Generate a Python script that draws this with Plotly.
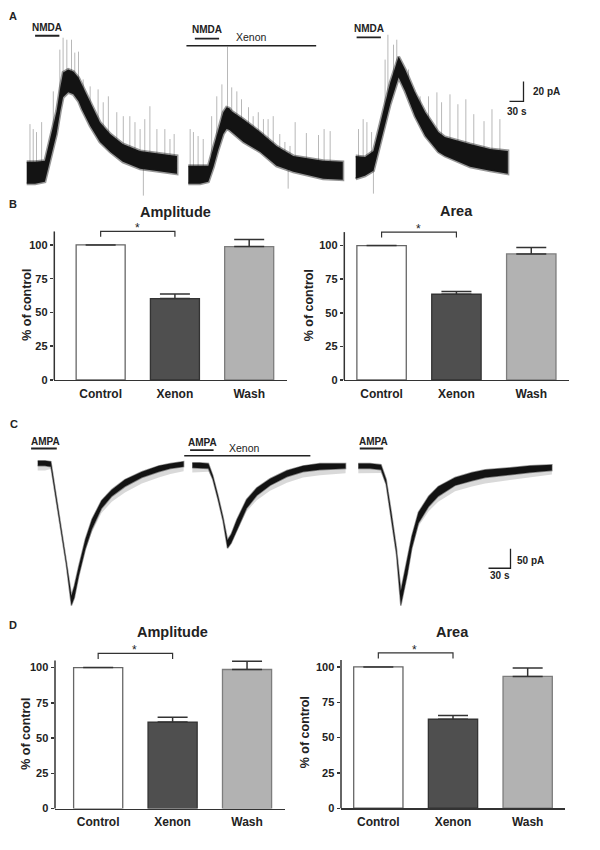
import plotly.graph_objects as go

# ======================= DATA =======================
conditions = ["Control", "Xenon", "Wash"]

# B: NMDA currents (% of control)
nmda_amp_mean = [100, 60.3, 98.8]
nmda_amp_sem = [None, 3.4, 5.2]
nmda_area_mean = [100, 63.8, 93.8]
nmda_area_sem = [None, 2.0, 4.8]
# D: AMPA currents (% of control)
ampa_amp_mean = [100, 61.3, 98.6]
ampa_amp_sem = [None, 3.5, 5.8]
ampa_area_mean = [100, 63.0, 93.3]
ampa_area_sem = [None, 2.6, 6.0]

# A: NMDA current sweeps (time s, band upper / lower pA)
A1_t = [0, 18, 39, 50, 64, 72, 78, 89, 100, 111, 118, 136, 157, 179, 206, 243, 286, 322]
A1_hi = [11, 11, 12, 33, 62, 86, 101, 104, 102, 96, 89, 71, 51, 39, 29, 22, 19, 17]
A1_lo = [-11, -11, -9, 11, 39, 62, 76, 81, 79, 72, 64, 47, 31, 21, 11, 4, 1, -1]
A1_spk_t = [7, 14, 21, 32, 57, 71, 78, 86, 96, 103, 111, 121, 136, 153, 164, 175, 193, 207,
            221, 232, 243, 250, 253, 264, 279, 296, 307, 316]
A1_spk_base = [0, 0, 0, 0, 45, 72, 80, 90, 90, 89, 84, 74, 59, 45, 38, 33, 25, 20,
               17, 15, 13, 12, 12, 11, 10, 9, 9, 9]
A1_spk_tip = [49, 44, 41, 51, 82, 124, 136, 134, 134, 121, 122, 94, 87, 84, 71, 77, 61, 57,
              57, 51, 44, -23, 54, 67, 44, 44, 34, 39]

A2_t = [0, 25, 43, 54, 64, 75, 82, 88, 93, 118, 154, 189, 225, 261, 289, 331]
A2_hi = [7, 7, 7, 26, 43, 61, 66, 65, 62, 54, 41, 27, 17, 14, 12, 11]
A2_lo = [-11, -11, -9, 6, 23, 39, 44, 43, 41, 31, 21, 7, 1, -3, -6, -7]
A2_spk_t = [4, 11, 21, 32, 50, 61, 72, 84, 93, 104, 114, 129, 139, 150, 161, 171, 182, 196,
            207, 214, 218, 229, 253, 279, 291, 304]
A2_spk_base = [0, 0, 0, 0, 10, 25, 40, 55, 52, 48, 44, 38, 34, 32, 28, 24, 20, 15,
               12, 8, 10, 9, 4, 4, 4, 4]
A2_spk_tip = [44, 41, 37, 34, 57, 77, 89, 127, 86, 82, 74, 66, 57, 61, 54, 54, 57, 39,
              31, -16, 27, 51, 40, 38, 44, 42]

A3_t = [0, 20, 38, 56, 74, 92, 106, 127, 149, 177, 191, 245, 288, 326]
A3_hi = [17, 16, 22, 57, 91, 117, 104, 81, 61, 41, 36, 29, 24, 22]
A3_lo = [-6, -3, 2, 35, 69, 96, 82, 57, 37, 21, 17, 6, 2, -1]
A3_spk_t = [6, 16, 24, 34, 38, 63, 69, 81, 88, 113, 127, 138, 156, 174, 184, 202, 219, 236,
            253, 275, 292, 309]
A3_spk_base = [5, 5, 5, 8, 10, 55, 70, 95, 100, 85, 69, 58, 45, 33, 28, 18, 17, 16,
               14, 12, 11, 10]
A3_spk_tip = [44, 54, 51, 41, -21, 114, 139, 129, 134, 104, 81, 77, 77, 81, 71, 79, 69, 74,
              59, 52, 64, 54]

# C: AMPA current sweeps (time s, band upper / lower pA, grey noise depth pA)
C1_t = [0, 10, 18, 25, 32, 39, 46, 50, 56, 65, 74, 87, 101, 119, 142, 165, 181, 199]
C1_hi = [10, 10, 8, -74, -160, -247, -336, -310, -260, -191, -140, -92, -64, -38, -18, -3, 3, 8]
C1_lo = [-3, -3, -5, -84, -170, -257, -361, -341, -285, -216, -165, -112, -81, -56, -33, -18, -10, -5]
C1_noise = [12, 12, 6, 0, 0, 0, 0, 0, 0, 4, 8, 12, 14, 15, 15, 15, 14, 12]

C2_t = [0, 10, 22, 28, 35, 42, 48, 53, 61, 74, 88, 106, 129, 151, 174, 209]
C2_hi = [5, 5, 3, -28, -79, -135, -193, -178, -140, -89, -59, -36, -15, -3, 3, 3]
C2_lo = [-8, -8, -10, -38, -89, -145, -214, -201, -165, -112, -79, -53, -31, -18, -13, -10]
C2_noise = [12, 12, 8, 0, 0, 0, 0, 0, 4, 8, 12, 14, 15, 15, 14, 12]

C3_t = [0, 16, 31, 38, 45, 52, 58, 62, 67, 73, 82, 96, 109, 132, 155, 173, 207, 234, 264]
C3_hi = [3, 3, 0, -38, -122, -214, -323, -285, -247, -183, -122, -81, -56, -33, -20, -13, -8, -3, 0]
C3_lo = [-10, -10, -13, -51, -135, -229, -361, -323, -280, -214, -150, -107, -81, -53, -41, -33, -25, -20, -15]
C3_noise = [12, 12, 8, 0, 0, 0, 0, 0, 0, 4, 8, 12, 14, 15, 15, 15, 14, 12, 10]

# drug application periods (s, relative to sweep start)
A_nmda = [[18, 70], [14, 66], [2, 54]]
A_xenon = [-4, 274]
C_ampa = [[-9, 26], [-3, 29], [2, 34]]
C_xenon = [-11, 161]

# scale bars (s, pA)
A_scale = [30, 20]
C_scale = [30, 50]

# ======================= LAYOUT =======================
W, H = 600, 850
FONT = "Liberation Sans, Arial, sans-serif"
INK = "#222222"


def fx(px):
    return px / W


def fy(py):
    return 1 - py / H


fig = go.Figure()
annotations = []
shapes = []
lay = dict(width=W, height=H, margin=dict(l=0, r=0, t=0, b=0),
           paper_bgcolor="white", plot_bgcolor="rgba(0,0,0,0)", showlegend=False,
           font=dict(family=FONT, color=INK))


def txt(text, px, py, size, bold=True, xanchor="center", yanchor="middle", angle=0):
    annotations.append(dict(text=text, x=fx(px), y=fy(py), xref="paper", yref="paper",
                            showarrow=False, xanchor=xanchor, yanchor=yanchor, textangle=angle,
                            font=dict(family=FONT, size=size, color=INK,
                                      weight="bold" if bold else "normal")))


def axname(kind, k):
    return kind + ("axis" if k == 1 else "axis%d" % k)


def ref(kind, k):
    return kind + ("" if k == 1 else str(k))


# ---- trace panels ----
A_left_px = [26.7, 188.3, 355.7]
A_px_per_s = 14 / 30
A_base_px, A_px_per_pA = 174, 1.0
A_ydom_px = (15, 205)
C_left_px = [37.7, 192.3, 358.3]
C_px_per_s = 22 / 30
C_base_px, C_px_per_pA = 468, 0.393
C_ydom_px = (435, 620)


def y_range(base_px, ppa, dom):
    return [(base_px - dom[1]) / ppa, (base_px - dom[0]) / ppa]


def set_y(k, base_px, ppa, dom):
    lay[axname("y", k)] = dict(domain=[fy(dom[1]), fy(dom[0])], range=y_range(base_px, ppa, dom),
                               visible=False, fixedrange=True, anchor=ref("x", 1))


set_y(1, A_base_px, A_px_per_pA, A_ydom_px)
set_y(2, C_base_px, C_px_per_pA, C_ydom_px)


def set_sweep_x(k, left_px, pxs, yk):
    lo_px, hi_px = left_px - 15, min(left_px + 215, W)
    lay[axname("x", k)] = dict(domain=[fx(lo_px), fx(hi_px)],
                               range=[(lo_px - left_px) / pxs, (hi_px - left_px) / pxs],
                               visible=False, fixedrange=True, anchor=ref("y", yk))


def band(t, hi, lo, xk, yk, halo=3):
    fig.add_trace(go.Scatter(x=t + t[::-1], y=hi + lo[::-1], fill="toself", fillcolor="#131313",
                             mode="lines", line=dict(color="rgba(25,25,25,0.45)", width=halo),
                             xaxis=ref("x", xk), yaxis=ref("y", yk), hoverinfo="skip"))


def spikes(st, sb, sp, xk, yk):
    xs, ys = [], []
    for t, b, p in zip(st, sb, sp):
        xs += [t, t, None]
        ys += [b, p, None]
    fig.add_trace(go.Scatter(x=xs, y=ys, mode="lines", line=dict(color="#999999", width=0.7),
                             xaxis=ref("x", xk), yaxis=ref("y", yk), hoverinfo="skip"))


def noise(t, lo, depth, xk, yk):
    deep = [l - d for l, d in zip(lo, depth)]
    fig.add_trace(go.Scatter(x=t + t[::-1], y=lo + deep[::-1], fill="toself",
                             fillcolor="rgba(120,120,120,0.28)", mode="lines",
                             line=dict(color="rgba(0,0,0,0)", width=0),
                             xaxis=ref("x", xk), yaxis=ref("y", yk), hoverinfo="skip"))


def hbar(t0, t1, level, xk, yk, width=1.8):
    fig.add_trace(go.Scatter(x=[t0, t1], y=[level, level], mode="lines",
                             line=dict(color=INK, width=width),
                             xaxis=ref("x", xk), yaxis=ref("y", yk), hoverinfo="skip"))


def level_A(py):
    return (A_base_px - py) / A_px_per_pA


def level_C(py):
    return (C_base_px - py) / C_px_per_pA


A_sweeps = [(A1_t, A1_hi, A1_lo, A1_spk_t, A1_spk_base, A1_spk_tip),
            (A2_t, A2_hi, A2_lo, A2_spk_t, A2_spk_base, A2_spk_tip),
            (A3_t, A3_hi, A3_lo, A3_spk_t, A3_spk_base, A3_spk_tip)]
A_bar_py = [36, 39, 37.7]
for i, (t, hi, lo, st, sb, sp) in enumerate(A_sweeps):
    k = i + 1
    set_sweep_x(k, A_left_px[i], A_px_per_s, 1)
    spikes(st, sb, sp, k, 1)
    band(t, hi, lo, k, 1, halo=3)
    hbar(A_nmda[i][0], A_nmda[i][1], level_A(A_bar_py[i]), k, 1)
hbar(A_xenon[0], A_xenon[1], level_A(46), 2, 1, width=1.5)

C_sweeps = [(C1_t, C1_hi, C1_lo, C1_noise), (C2_t, C2_hi, C2_lo, C2_noise),
            (C3_t, C3_hi, C3_lo, C3_noise)]
C_bar_py = [451.7, 453.3, 451.7]
for i, (t, hi, lo, nz) in enumerate(C_sweeps):
    k = i + 4
    set_sweep_x(k, C_left_px[i], C_px_per_s, 2)
    noise(t, lo, nz, k, 2)
    band(t, hi, lo, k, 2, halo=1.5)
    hbar(C_ampa[i][0], C_ampa[i][1], level_C(C_bar_py[i]), k, 2)
hbar(C_xenon[0], C_xenon[1], level_C(459), 5, 2, width=1.5)

# scale bars
a_t0 = (509.5 - A_left_px[2]) / A_px_per_s
a_y0 = level_A(102)
fig.add_trace(go.Scatter(x=[a_t0, a_t0 + A_scale[0], a_t0 + A_scale[0]],
                         y=[a_y0, a_y0, a_y0 + A_scale[1]], mode="lines",
                         line=dict(color=INK, width=1.3), xaxis="x3", yaxis="y", hoverinfo="skip"))
c_t0 = (488.5 - C_left_px[2]) / C_px_per_s
c_y0 = level_C(572.3)
fig.add_trace(go.Scatter(x=[c_t0, c_t0 + C_scale[0], c_t0 + C_scale[0]],
                         y=[c_y0, c_y0, c_y0 + C_scale[1]], mode="lines",
                         line=dict(color=INK, width=1.3), xaxis="x6", yaxis="y2", hoverinfo="skip"))

# trace-panel texts
txt("A", 12.5, 16.5, 11)
txt("NMDA", 47.3, 27.5, 10)
txt("NMDA", 206.7, 30, 10)
txt("Xenon", 251.3, 37, 10.5, bold=False)
txt("NMDA", 369.2, 28.5, 10)
txt("%d pA" % A_scale[1], 531, 92.5, 10, xanchor="left")
txt("%d s" % A_scale[0], 517, 112.5, 10)
txt("C", 13.5, 427, 11)
txt("AMPA", 45.5, 445, 10)
txt("AMPA", 202.3, 445.7, 10)
txt("Xenon", 244.5, 451, 10.5, bold=False)
txt("AMPA", 373, 444.3, 10)
txt("%d pA" % C_scale[1], 515, 564.5, 10, xanchor="left")
txt("%d s" % C_scale[0], 500.5, 580, 10)
txt("B", 13.3, 205, 11)
txt("D", 12.8, 629, 11)

# ---- bar panels ----
fills = ["#ffffff", "#4f4f4f", "#b2b2b2"]
edges = ["#666666", "#333333", "#7d7d7d"]
YMAX = 111
bar_panels = [
    dict(mean=nmda_amp_mean, sem=nmda_amp_sem, title="Amplitude", xdom=(54.3, 287), y0=382.7,
         ppu=1.36, xr=(-0.624, 2.509), ytop=110, t_xy=(175, 214), yl_xy=(27, 307)),
    dict(mean=nmda_area_mean, sem=nmda_area_sem, title="Area", xdom=(344.3, 569.3), y0=382.7,
         ppu=1.354, xr=(-0.498, 2.508), ytop=110, t_xy=(456, 213), yl_xy=(309, 307.5)),
    dict(mean=ampa_amp_mean, sem=ampa_amp_sem, title="Amplitude", xdom=(55, 285), y0=814.3,
         ppu=1.42, xr=(-0.58, 2.51), ytop=105, t_xy=(172.3, 636), yl_xy=(26, 739)),
    dict(mean=ampa_area_mean, sem=ampa_area_sem, title="Area", xdom=(341, 565), y0=814,
         ppu=1.423, xr=(-0.5, 2.5), ytop=105, t_xy=(452.7, 636.5), yl_xy=(305, 737.5)),
]
for j, p in enumerate(bar_panels):
    xk, yk = 7 + j, 3 + j
    top_px = p["y0"] - YMAX * p["ppu"]
    lay[axname("x", xk)] = dict(domain=[fx(p["xdom"][0]), fx(p["xdom"][1])], range=list(p["xr"]),
                                type="category", anchor=ref("y", yk), showline=True,
                                linecolor="#333333", linewidth=1.5, ticks="", showgrid=False,
                                zeroline=False, fixedrange=True, ticklabelstandoff=2,
                                tickfont=dict(family=FONT, size=12, color=INK, weight="bold"))
    lay[axname("y", yk)] = dict(domain=[fy(p["y0"]), fy(top_px)], range=[0, YMAX],
                                anchor=ref("x", xk), showline=False, showgrid=False,
                                zeroline=False, tickvals=[0, 25, 50, 75, 100], ticks="outside",
                                ticklen=3.5, tickwidth=1.5, tickcolor="#333333", fixedrange=True,
                                tickfont=dict(family=FONT, size=11, color=INK, weight="bold"))
    fig.add_trace(go.Bar(x=conditions, y=p["mean"], width=0.66,
                         marker=dict(color=fills, line=dict(color=edges, width=1.3)),
                         error_y=dict(type="data", array=p["sem"], arrayminus=[0, 0, 0],
                                      symmetric=False, color="#333333", thickness=1.5, width=15),
                         xaxis=ref("x", xk), yaxis=ref("y", yk), hoverinfo="skip"))
    # significance bracket Control vs Xenon
    fig.add_trace(go.Scatter(x=["Control", "Control", "Xenon", "Xenon"], y=[106, 110, 110, 106],
                             mode="lines", line=dict(color="#333333", width=1.2),
                             xaxis=ref("x", xk), yaxis=ref("y", yk), hoverinfo="skip"))
    annotations.append(dict(text="*", x=0.49, y=110, xref=ref("x", xk), yref=ref("y", yk),
                            showarrow=False, yanchor="middle", yshift=3,
                            font=dict(family=FONT, size=12, color=INK)))
    shapes.append(dict(type="line", xref=ref("x", xk) + " domain", yref=ref("y", yk) + " domain",
                       x0=0, x1=0, y0=0, y1=p["ytop"] / YMAX,
                       line=dict(color="#333333", width=1.5)))
    txt(p["title"], p["t_xy"][0], p["t_xy"][1], 14.5)
    txt("% of control", p["yl_xy"][0], p["yl_xy"][1], 12.5, angle=-90)

lay["annotations"] = annotations
lay["shapes"] = shapes
fig.update_layout(**lay)
fig.write_html("out.html", config={"displayModeBar": False, "staticPlot": True},
               post_script="document.body.style.margin='0px';")
